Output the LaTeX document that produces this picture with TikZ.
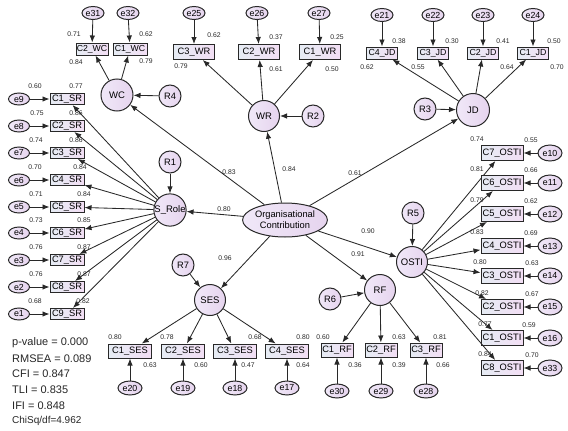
\documentclass[tikz,border=0pt]{standalone}
\usepackage{fontspec}
\setmainfont{Liberation Sans}
\usetikzlibrary{arrows.meta,shapes.geometric}
\definecolor{fillL}{RGB}{230,236,244}
\definecolor{fillR}{RGB}{242,222,244}
\definecolor{circL}{RGB}{240,232,248}
\definecolor{circR}{RGB}{230,212,238}
\definecolor{edgec}{RGB}{40,40,40}
\tikzset{
 obs/.style={draw=edgec, line width=1pt, left color=fillL, right color=fillR, inner sep=0.5pt, minimum height=12pt, font=\fontsize{9.3}{9.3}\selectfont},
 lat/.style={circle, draw=edgec, line width=1pt, left color=circL, right color=circR, inner sep=0pt, minimum size=31pt, font=\fontsize{9.5}{9.5}\selectfont},
 res/.style={circle, draw=edgec, line width=1pt, left color=circL, right color=circR, inner sep=0pt, minimum size=22pt, font=\fontsize{9.3}{9.3}\selectfont},
 err/.style={ellipse, draw=edgec, line width=1pt, left color=circL, right color=circR, inner sep=0pt, minimum width=22pt, minimum height=13pt, font=\fontsize{8.8}{8.8}\selectfont},
 lab/.style={font=\fontsize{6.8}{6.8}\selectfont, text=black!85, inner sep=0pt},
 fit/.style={font=\fontsize{11}{11}\selectfont, anchor=west, inner sep=0pt, text=black!85},
 arr/.style={draw=edgec, line width=0.85pt, -{Latex[length=7pt,width=5.5pt]}},
}
\begin{document}
\begin{tikzpicture}[x=1pt,y=-1pt]
\useasboundingbox (0,0) rectangle (568,431);
% central
\node[ellipse, draw=edgec, line width=1pt, left color=circL, right color=circR, minimum width=74pt, minimum height=34pt, inner sep=0pt, align=center, font=\fontsize{9.3}{10.8}\selectfont] (org) at (285,220) {Organisational\\Contribution};
% latent
\node[lat, minimum size=32pt] (WC) at (117,95) {WC};
\node[res] (R4) at (170,96) {R4};
\node[lat] (WR) at (264,116) {WR};
\node[res] (R2) at (313,116) {R2};
\node[lat, minimum size=33pt] (JD) at (473,110) {JD};
\node[res] (R3) at (425,109) {R3};
\node[lat] (SRole) at (170,210) {S\_Role};
\node[res] (R1) at (170,162) {R1};
\node[lat] (OSTI) at (412,262) {OSTI};
\node[res] (R5) at (413,213) {R5};
\node[lat] (RF) at (380,290) {RF};
\node[res] (R6) at (330,299) {R6};
\node[lat] (SES) at (210,300) {SES};
\node[res] (R7) at (183,265) {R7};
% structural arrows
\draw[arr] (org) -- (WC);
\draw[arr] (org) -- (WR);
\draw[arr] (org) -- (JD);
\draw[arr] (org) -- (SRole);
\draw[arr] (org) -- (SES);
\draw[arr] (org) -- (RF);
\draw[arr] (org) -- (OSTI);
\draw[arr] (R4) -- (WC);
\draw[arr] (R2) -- (WR);
\draw[arr] (R3) -- (JD);
\draw[arr] (R1) -- (SRole);
\draw[arr] (R5) -- (OSTI);
\draw[arr] (R6) -- (RF);
\draw[arr] (R7) -- (SES);
\node[lab] at (229,172) {0.83};
\node[lab] at (289,169) {0.84};
\node[lab] at (355,173) {0.61};
\node[lab] at (224,209) {0.80};
\node[lab] at (368,231) {0.90};
\node[lab] at (358,254) {0.91};
\node[lab] at (225,258) {0.96};
% WC
\foreach \n/\x/\w/\e/\ex in {2/92/32/31/93, 1/130/34/32/128}{
  \node[obs, minimum width=\w pt, font=\fontsize{8.7}{8.7}\selectfont] (WC\n) at (\x,49) {C\n\_WC};
  \node[err] (e\e) at (\ex,13) {e\e};
  \draw[arr] (e\e) -- (WC\n);
  \draw[arr] (WC) -- (WC\n);
}
\node[lab] at (74,34) {0.71};
\node[lab] at (146,34) {0.62};
\node[lab] at (76,62) {0.84};
\node[lab] at (146,61) {0.79};
% WR
\foreach \n/\x/\e/\ex/\a/\ax/\ay/\b/\bx/\by in {3/194/25/194/0.62/214/35/0.79/181/66, 2/259/26/257/0.37/276/37/0.61/276/69, 1/320/27/319/0.25/337/37/0.50/332/69}{
  \node[obs, minimum width=41pt, minimum height=15pt] (WR\n) at (\x,52) {C\n\_WR};
  \node[err] (e\e) at (\ex,13) {e\e};
  \draw[arr] (e\e) -- (WR\n);
  \draw[arr] (WR) -- (WR\n);
  \node[lab] at (\ax,\ay) {\a};
  \node[lab] at (\bx,\by) {\b};
}
% JD
\foreach \n/\x/\e/\a/\ax/\b/\bx in {4/382/21/0.38/399/0.62/367, 3/433/22/0.30/452/0.55/418, 2/483/23/0.41/503/0.64/507, 1/533/24/0.50/554/0.70/557}{
  \node[obs, minimum width=31pt, font=\fontsize{8.8}{8.8}\selectfont] (JD\n) at (\x,53) {C\n\_JD};
  \node[err] (e\e) at (\x,15) {e\e};
  \draw[arr] (e\e) -- (JD\n);
  \draw[arr] (JD) -- (JD\n);
  \node[lab] at (\ax,41) {\a};
  \node[lab] at (\bx,67) {\b};
}
% S_Role
\foreach \n/\y/\e/\a/\ax/\b/\bx in {1/99/9/0.60/35/0.77/76, 2/126/8/0.75/37/0.86/76, 3/153/7/0.74/36/0.86/76, 4/180/6/0.70/35/0.84/80, 5/207/5/0.71/36/0.84/84, 6/233/4/0.73/36/0.85/84, 7/260/3/0.76/36/0.87/84, 8/287/2/0.76/36/0.87/84, 9/314/1/0.68/35/0.82/83}{
  \node[obs, minimum width=34pt, minimum height=11pt] (SR\n) at (67,\y) {C\n\_SR};
  \node[err, minimum width=21pt, minimum height=12pt] (e\e) at (19,\y) {e\e};
  \draw[arr] (e\e) -- (SR\n);
  \draw[arr] (SRole) -- (SR\n);
  \node[lab] at (\ax,\y-13) {\a};
  \node[lab] at (\bx,\y-13) {\b};
}
% OSTI
\foreach \n/\y/\e/\a/\ax/\b/\bx in {7/153/10/0.74/477/0.55/531, 6/183/11/0.81/477/0.66/531, 5/214/12/0.79/477/0.62/531, 4/246/13/0.83/477/0.69/531, 3/276/14/0.80/480/0.63/532, 2/307/15/0.82/482/0.67/532, 1/338/16/0.77/485/0.59/529, 8/368/33/0.84/485/0.70/532}{
  \node[obs, minimum width=42pt, minimum height=15pt] (OS\n) at (502,\y) {C\n\_OSTI};
  \node[err, minimum width=24pt, minimum height=16pt] (e\e) at (550,\y) {e\e};
  \draw[arr] (e\e) -- (OS\n);
  \draw[arr] (OSTI) -- (OS\n);
  \node[lab] at (\ax,\y-14) {\a};
  \node[lab] at (\bx,\y-13) {\b};
}
% RF
\foreach \n/\x/\e/\a/\ax/\b/\bx in {1/337/30/0.60/323/0.36/355, 2/381/29/0.63/399/0.39/399, 3/426/28/0.81/440/0.66/443}{
  \node[obs, minimum width=32pt, minimum height=14pt] (RF\n) at (\x,350) {C\n\_RF};
  \node[err, minimum width=24pt, minimum height=14pt] (e\e) at (\x,391) {e\e};
  \draw[arr] (e\e) -- (RF\n);
  \draw[arr] (RF) -- (RF\n);
  \node[lab] at (\ax,337) {\a};
  \node[lab] at (\bx,365) {\b};
}
% SES
\foreach \n/\x/\e/\a/\ax/\b/\bx in {1/130/20/0.80/115/0.63/150, 2/183/19/0.78/167/0.60/201, 3/235/18/0.68/255/0.47/248, 4/287/17/0.80/303/0.64/303}{
  \node[obs, minimum width=43pt, minimum height=14pt] (SES\n) at (\x,351) {C\n\_SES};
  \node[err, minimum width=24pt, minimum height=14pt] (e\e) at (\x,388) {e\e};
  \draw[arr] (e\e) -- (SES\n);
  \draw[arr] (SES) -- (SES\n);
  \node[lab] at (\ax,337) {\a};
  \node[lab] at (\bx,365) {\b};
}
% fit indices
\node[fit] (f1) at (12,343) {p-value = 0.000};
\node[fit] (f2) at (12,359) {RMSEA = 0.089};
\node[fit] (f3) at (12,374) {CFI = 0.847};
\node[fit] (f4) at (12,390) {TLI = 0.835};
\node[fit] (f5) at (12,406) {IFI = 0.848};
\node[fit, font=\fontsize{10}{10}\selectfont] (f6) at (12,421) {ChiSq/df=4.962};
\end{tikzpicture}
\end{document}
